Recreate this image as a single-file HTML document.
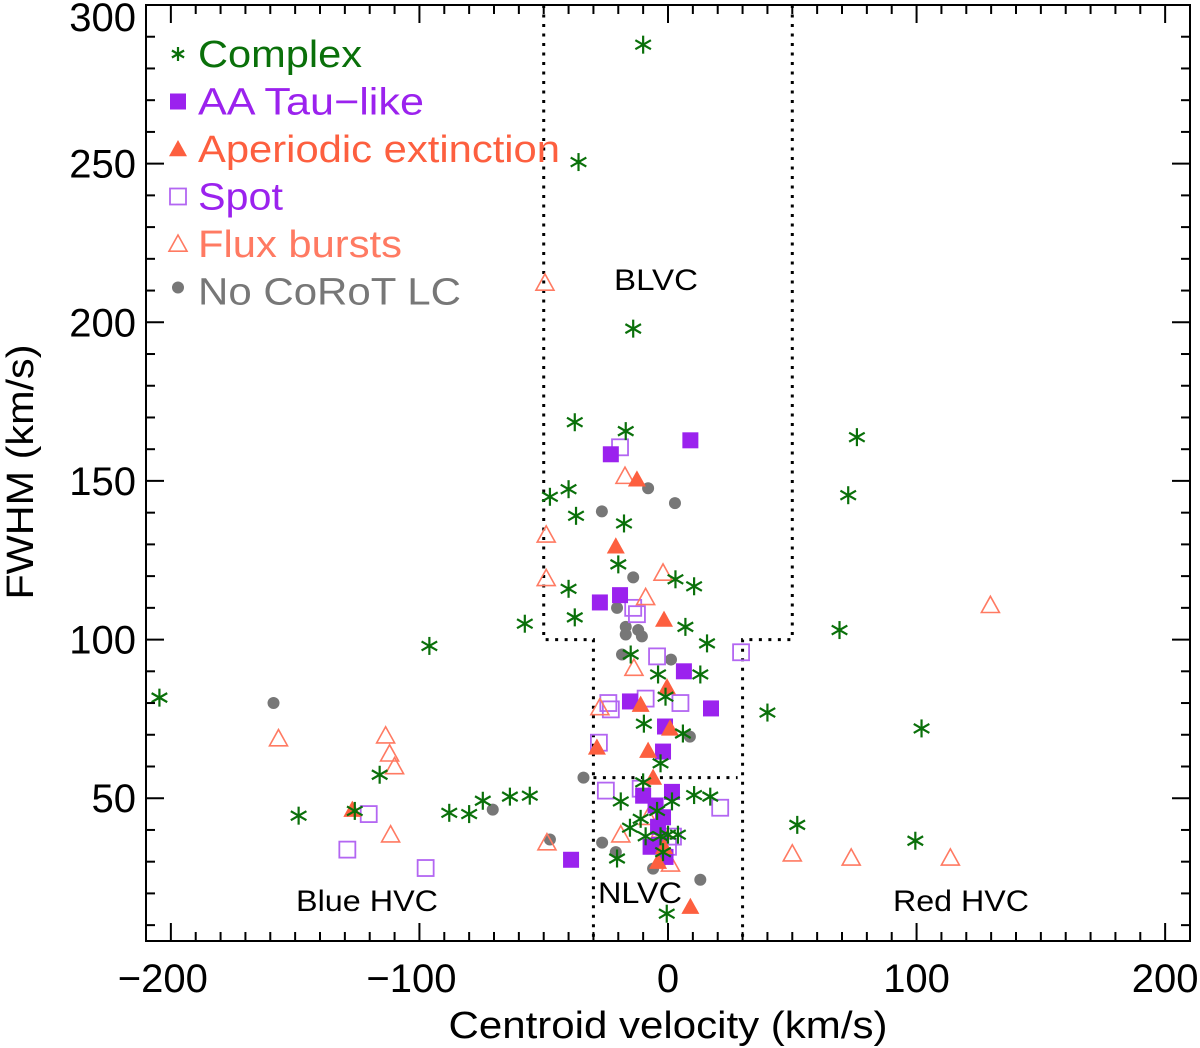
<!DOCTYPE html>
<html><head><meta charset="utf-8"><style>
html,body{margin:0;padding:0;background:#fff;width:1200px;height:1048px;overflow:hidden}
svg{display:block;font-family:"Liberation Sans",sans-serif}
</style></head><body>
<svg id="chart" width="1200" height="1048" xmlns="http://www.w3.org/2000/svg"></svg>
<script>
const xTicks=[-200,-100,0,100,200];
const yTicks=[50,100,150,200,250,300];
const complexX=[-10,-36,-14,-37.5,-17,76,-40,-47.5,72.5,-37,-17.7,-40,-20,3,10.5,-37.5,-57.6,7,69,15.7,-96,-15,-4,13,-1,-9.7,6,-3,-10,10.5,17,-19,1.6,-4.4,-15.3,-11,-9,-3,0,4,-2,-20.5,-0.5,40,-204.6,-116,-148.6,-126,-88,-80,-74.5,-63.6,-55.6,102,52,99.5];
const complexY=[287.5,250.5,198,168.5,165.7,163.8,147.4,145,145.5,139,136.6,116,123.7,119,116.8,107,105,104,103,98.8,98,95.3,89,89,82,73.5,70.4,61,55,51,50.5,49,49,46,40.7,43.5,38,38,38.5,38.5,33,31,13.6,77,81.7,57.4,44.5,46,45.4,45,49.2,50.5,50.8,72,41.6,36.6];
const aaX=[9,-23,-27.4,-19.3,6.4,-15.3,17.3,-1.2,-2,-39,-10,1.6,-5,-4,-3.6,-1,-7,-2];
const aaY=[162.8,158.4,111.7,114,90,80.5,78.3,72.6,64.7,30.6,50.8,52,47.7,41,35.3,31.5,34.7,44];
const apX=[-12.5,-21,-1.6,-0.4,-11,-28.6,-8,0.8,-6,-127,-4,9,-1.6];
const apY=[150.5,129.4,106.3,85,79.5,66,65,72,56.5,46.4,30,15.8,34.7];
const spotX=[-19.3,-14,-12.5,-23,-9,-4.4,5,29.4,-27.8,-25,21,-120.4,-129,-97.5,-11,0,2,-24];
const spotY=[160.6,110,108,78,81.4,94.7,80,96,67.5,52.4,47,45,33.8,28,53,34.7,37.9,80];
const fluxX=[-49.5,-17.3,-49,-2,-49,-9,-13.7,-19,-48.7,-8,1,-156.7,-113.6,-112,-110,-111.6,50,73.7,113.6,129.7,-27.4,-3];
const fluxY=[212.4,151.5,133,121,119.3,113.3,91,38.5,36,44,29.3,68.8,69.7,64,60,38.5,32.5,31.2,31.2,110.8,78.6,40];
const grayX=[-158.7,-70.5,-47.5,-34,-26.6,-8,2.8,-14,-20.5,-17,-12,-17,-10.5,-18.5,1.2,8.8,-21,-6,13,-4,-26.5];
const grayY=[80,46.4,37,56.5,140.4,147.7,143,119.6,110,104,103,101.6,101,95.3,93.7,69.4,33,27.8,24.3,40,36];

const L=146,R=1190,T=5,B=941,XMIN=-210,XMAX=210,YMIN=5,YMAX=300;
const sx=v=>L+(v-XMIN)/(XMAX-XMIN)*(R-L);
const sy=v=>B-(v-YMIN)/(YMAX-YMIN)*(B-T);
const svg=document.getElementById('chart');
const NS='http://www.w3.org/2000/svg';
function mk(tag,attrs,parent){const e=document.createElementNS(NS,tag);for(const k in attrs)e.setAttribute(k,attrs[k]);(parent||svg).appendChild(e);return e;}
const G='#0a700a',P='#9b22ee',PL='#b366f2',O='#fd5f3f',OL='#ff7a62',GR='#777';

const boxes=mk('g',{stroke:'#000','stroke-width':3,'stroke-dasharray':'3 6.5',fill:'none'});


mk('polyline',{points:`${sx(-50)},${sy(300)} ${sx(-50)},${sy(100)} ${sx(-30)},${sy(100)} ${sx(-30)},${sy(5)}`},boxes);
mk('polyline',{points:`${sx(50)},${sy(300)} ${sx(50)},${sy(100)} ${sx(30)},${sy(100)} ${sx(30)},${sy(5)}`},boxes);
mk('line',{x1:sx(-30),y1:sy(56.5),x2:sx(28),y2:sy(56.5)},boxes);

function star(g,x,y,c,s){s=s||9;for(const a of [0,60,120]){const r=a*Math.PI/180;mk('line',{x1:x-s*Math.sin(r),y1:y-s*Math.cos(r),x2:x+s*Math.sin(r),y2:y+s*Math.cos(r),stroke:c,'stroke-width':2.2},g);}}
function sq(g,x,y,c,fill,s){s=s||8;mk('rect',{x:x-s,y:y-s,width:2*s,height:2*s,fill:fill?c:'none',stroke:c,'stroke-width':fill?0:1.8},g);}
function tri(g,x,y,c,fill,s){s=s||9;mk('polygon',{points:`${x},${y-s} ${x-s},${y+s*0.8} ${x+s},${y+s*0.8}`,fill:fill?c:'none',stroke:c,'stroke-width':fill?0:1.6},g);}
function circ(g,x,y,c){mk('circle',{cx:x,cy:y,r:6,fill:c},g);}

const gG=mk('g',{});
grayX.forEach((v,i)=>circ(gG,sx(v),sy(grayY[i]),GR));
const gS=mk('g',{});
spotX.forEach((v,i)=>sq(gS,sx(v),sy(spotY[i]),PL,false));
const gF=mk('g',{});
fluxX.forEach((v,i)=>tri(gF,sx(v),sy(fluxY[i]),OL,false));
const gA=mk('g',{});
aaX.forEach((v,i)=>sq(gA,sx(v),sy(aaY[i]),P,true));
const gE=mk('g',{});
apX.forEach((v,i)=>tri(gE,sx(v),sy(apY[i]),O,true));
const gC=mk('g',{});
complexX.forEach((v,i)=>star(gC,sx(v),sy(complexY[i]),G));

const ax=mk('g',{stroke:'#000','stroke-width':2});


mk('rect',{x:L,y:T,width:R-L,height:B-T,fill:'none'},ax);
for(let v=-200;v<=200;v+=10){const x=sx(v),len=v%100===0?18:9;mk('line',{x1:x,y1:B,x2:x,y2:B-len},ax);mk('line',{x1:x,y1:T,x2:x,y2:T+len},ax);}
for(let v=10;v<=300;v+=10){const y=sy(v),len=v%50===0?18:9;mk('line',{x1:L,y1:y,x2:L+len,y2:y},ax);mk('line',{x1:R,y1:y,x2:R-len,y2:y},ax);}
function txt(s,x,y,size,fill,anchor,name,tl){const t=mk('text',{x:x,y:y,'font-size':size,fill:fill||'#000','text-anchor':anchor||'middle'});if(tl){t.setAttribute('textLength',tl);t.setAttribute('lengthAdjust','spacingAndGlyphs');}t.textContent=s;return t;}
xTicks.forEach(v=>txt((v<0?'\u2212':'')+Math.abs(v),sx(v)-(v<0?8:0),992,40,'#000','middle','x-tick-label'));
yTicks.forEach(v=>{const y=Math.max(sy(v),17);txt(String(v),136,y+14,40,'#000','end','y-tick-label');});
txt('Centroid velocity (km/s)',668,1038,38,'#000','middle','x-axis-title',439);
const yt=txt('FWHM (km/s)',0,0,38,'#000','middle','y-axis-title',255);yt.setAttribute('transform','translate(33,472) rotate(-90)');
txt('BLVC',656,290,30,'#000','middle','blvc-label',84);
txt('Blue HVC',367,911,30,'#000','middle','blue-hvc-label',142);
txt('NLVC',640,903,30,'#000','middle','nlvc-label',84);
txt('Red HVC',961,911,30,'#000','middle','red-hvc-label',136);

const lg=mk('g',{});
const rows=[['Complex',G,'star',164],['AA Tau\u2212like',P,'fsq',226],['Aperiodic extinction',O,'ftri',362],['Spot',P,'osq',85],['Flux bursts',OL,'otri',204],['No CoRoT LC',GR,'circ',263]];
rows.forEach((r,i)=>{const y=54+i*47.5;const x=178;
 if(r[2]==='star')star(lg,x,y,G,7);else if(r[2]==='fsq')sq(lg,x,y,P,true,8);else if(r[2]==='ftri')tri(lg,x,y,O,true,9);else if(r[2]==='osq')sq(lg,x,y,PL,false,8);else if(r[2]==='otri')tri(lg,x,y,OL,false,9);else circ(lg,x,y-4,GR);
 const t=txt(r[0],198,y+13,38,r[1],'start','legend-entry',r[3]);lg.appendChild(t);});
</script>
</body></html>
